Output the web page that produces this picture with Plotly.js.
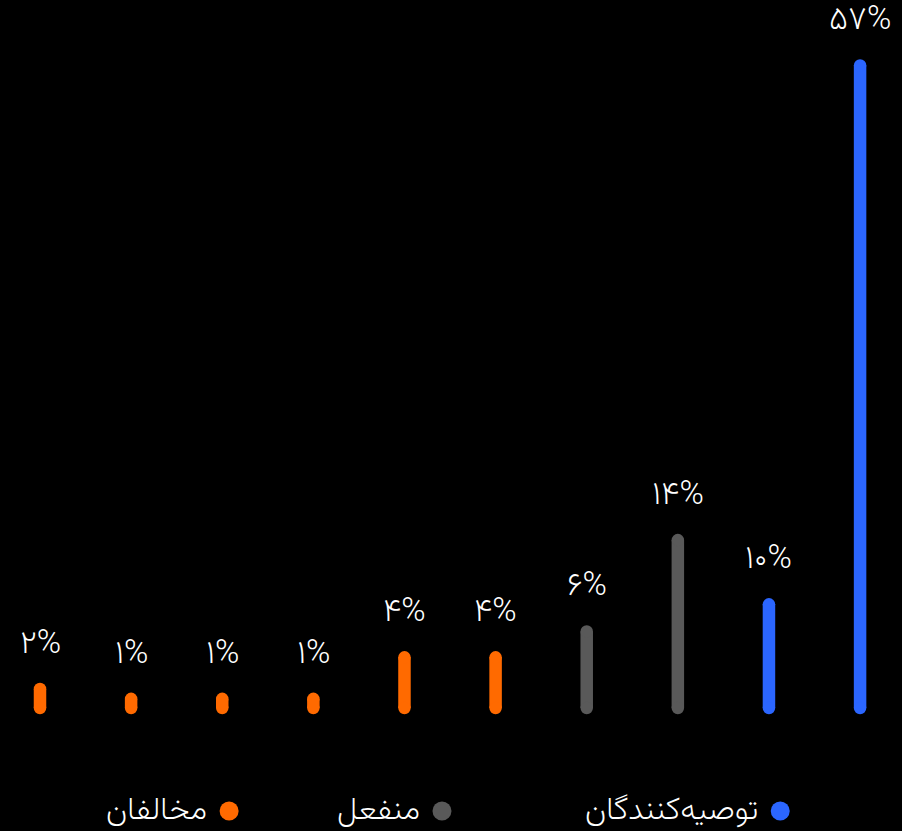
<!DOCTYPE html>
<html>
<head>
<meta charset="utf-8">
<script src="https://cdn.plot.ly/plotly-3.0.1.min.js"></script>
<style>
html,body{margin:0;padding:0;background:#000;}
#chart{width:902px;height:831px;}
</style>
</head>
<body>
<div id="chart"></div>
<script>
// ---- data ----
const categories = ["c1","c2","c3","c4","c5","c6","c7","c8","c9","c10"];
// bar lengths (percent)
const values = [1.7, 0.82, 0.82, 0.82, 4.5, 4.5, 6.8, 14.9, 9.2, 57];
// value labels shown above the bars
const valueLabels = ["۲%", "۱%", "۱%", "۱%", "۴%", "۴%", "۶%", "۱۴%", "۱۰%", "۵۷%"];
const groups = ["detractor","detractor","detractor","detractor","detractor","detractor","passive","passive","promoter","promoter"];
const groupNames = ["مخالفان", "منفعل", "توصیه‌کنندگان"];
const groupKeys = ["detractor", "passive", "promoter"];
const groupColors = ["#FF6A00", "#595959", "#2B66FF"];
// ---------------

function colorOf(g){ return groupColors[groupKeys.indexOf(g)]; }

const FONT = "Vazirmatn, Noto Sans Arabic, DejaVu Sans, sans-serif";
const traces = [];
categories.forEach((c, i) => {
  const col = colorOf(groups[i]);
  traces.push({
    type: "scatter",
    mode: "lines+markers",
    x: [i, i],
    y: [0, values[i]],
    line: {color: col, width: 12.5},
    marker: {color: col, size: 12.5, symbol: "circle", line: {width: 0}},
    hoverinfo: "skip",
    showlegend: false
  });
});

const annotations = categories.map((c, i) => ({
  x: i, y: values[i], xref: "x", yref: "y",
  text: valueLabels[i],
  showarrow: false,
  yshift: 44,
  borderpad: 0,
  font: {family: FONT, size: 33, weight: 200, color: "#ffffff"},
  xanchor: "center", yanchor: "middle"
}));

// legend (RTL: marker to the right of its text)
const legendX = [0.254, 0.49, 0.865];
const legendY = 0.024;
const shapes = [];
groupNames.forEach((name, k) => {
  shapes.push({
    type: "circle", xref: "paper", yref: "paper",
    xsizemode: "pixel", ysizemode: "pixel",
    xanchor: legendX[k], yanchor: legendY,
    x0: -9.5, x1: 9.5, y0: -9.5, y1: 9.5,
    fillcolor: groupColors[k], line: {width: 0}
  });
  annotations.push({
    x: legendX[k], y: legendY, xref: "paper", yref: "paper",
    xshift: -21,
    borderpad: 0,
    text: name, showarrow: false,
    font: {family: FONT, size: 32, weight: 200, color: "#ffffff"},
    xanchor: "right", yanchor: "middle"
  });
});

const layout = {
  width: 902, height: 831,
  paper_bgcolor: "#000000", plot_bgcolor: "#000000",
  margin: {l: 0, r: 0, t: 0, b: 0},
  showlegend: false,
  xaxis: {range: [-0.439, 9.46], visible: false, fixedrange: true},
  yaxis: {range: [-10.9, 62.8], visible: false, fixedrange: true},
  annotations: annotations,
  shapes: shapes
};

Plotly.newPlot("chart", traces, layout, {displayModeBar: false, staticPlot: true});
</script>
</body>
</html>
